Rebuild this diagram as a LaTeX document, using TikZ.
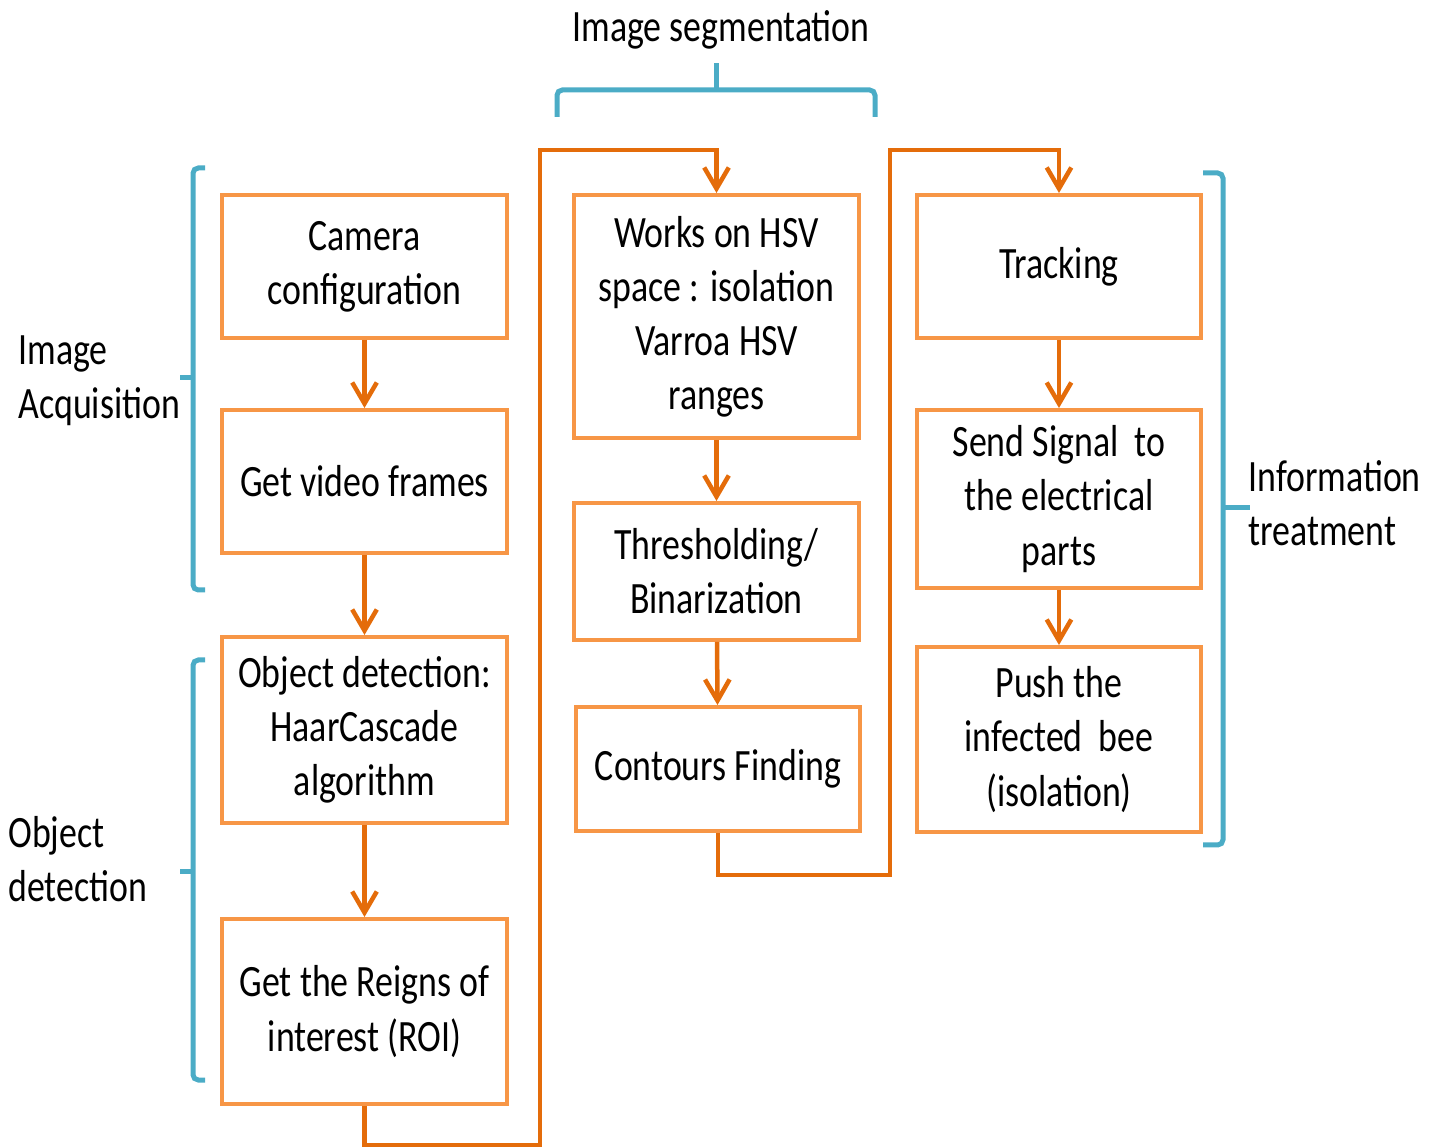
\documentclass[tikz,border=0pt]{standalone}
\usepackage{fontspec}
\setmainfont[FakeStretch=0.8]{Carlito}
\usetikzlibrary{arrows.meta}
\definecolor{boxorange}{HTML}{F79646}
\definecolor{linkorange}{HTML}{E46C0A}
\definecolor{bracketblue}{HTML}{4BACC6}
\begin{document}
\begin{tikzpicture}[x=0.02cm, y=-0.02cm,
    stepbox/.style={draw=boxorange, line width=0.08cm, align=center,
        minimum width=5.7cm, inner sep=2pt,
        font=\fontsize{25.5}{30.8}\selectfont},
    link/.style={draw=linkorange, line width=0.09cm,
        -{Straight Barb[length=12pt, width=14pt, line width=0.09cm]}},
    brace/.style={draw=bracketblue, line width=0.1cm, rounded corners=3pt},
    tag/.style={align=left, anchor=west, inner sep=0pt,
        font=\fontsize{25.5}{30.8}\selectfont}]
    \useasboundingbox (0,0) rectangle (1445,1148);
    % first column
    \node[stepbox, minimum height=2.86cm] (cam) at (364.5, 266.5) {Camera\\configuration};
    \node[stepbox, minimum height=2.86cm] (vid) at (364.5, 481.5) {Get video frames};
    \node[stepbox, minimum height=3.72cm] (obj) at (364.5, 730) {Object detection:\\HaarCascade\\algorithm};
    \node[stepbox, minimum height=3.70cm] (roi) at (364.5, 1011.5) {Get the Reigns of\\interest (ROI)};
    % second column
    \node[stepbox, minimum height=4.86cm] (hsv) at (716.5, 316.5) {Works on HSV\\space : isolation\\Varroa HSV\\ranges};
    \node[stepbox, minimum height=2.74cm] (thr) at (716.5, 571.5) {Thresholding/\\Binarization};
    \node[stepbox, minimum height=2.48cm] (cont) at (718, 769) {Contours Finding};
    % third column
    \node[stepbox, minimum width=5.68cm, minimum height=2.86cm] (trk) at (1059, 266.5) {Tracking};
    \node[stepbox, minimum width=5.68cm, minimum height=3.56cm] (sig) at (1059, 499) {Send Signal~ to\\the electrical\\parts};
    \node[stepbox, minimum width=5.68cm, minimum height=3.70cm] (push) at (1059, 739.5) {Push the\\infected~ bee\\(isolation)};

    % group labels
    \node[tag] (acq) at (18, 381) {Image\\Acquisition};
    \node[tag] (det) at (8, 859) {Object\\detection};
    \node[tag] (info) at (1248, 503) {Information\\treatment};
    \node[inner sep=0pt, font=\fontsize{25.5}{30.8}\selectfont] (seg) at (721, 30) {Image segmentation};

    % arrows inside the columns
    \draw[link] (cam) -- (vid);
    \draw[link] (vid) -- (obj);
    \draw[link] (obj) -- (roi);
    \draw[link] (hsv) -- (thr);
    \draw[link] (thr) -- (cont);
    \draw[link] (trk) -- (sig);
    \draw[link] (sig) -- (push);

    % links between the columns
    \coordinate (lowA) at (540, 1145);
    \coordinate (topA) at (540, 150);
    \coordinate (lowB) at (890, 875);
    \coordinate (topB) at (890, 150);
    \draw[link] (roi.south) |- (lowA) -- (topA) -| (hsv.north);
    \draw[link] (cont.south) |- (lowB) -- (topB) -| (trk.north);

    % brackets
    \draw[brace] (205, 168) -- (193, 168) -- (193, 590) -- (205, 590);
    \draw[brace] (180, 378) -- (193, 378);
    \draw[brace] (205, 660) -- (193, 660) -- (193, 1080) -- (205, 1080);
    \draw[brace] (180, 872) -- (193, 872);
    \draw[brace] (1203, 173) -- (1223, 173) -- (1223, 845) -- (1203, 845);
    \draw[brace] (1223, 508) -- (1250, 508);
    \draw[brace] (557, 117) -- (557, 90) -- (875, 90) -- (875, 117);
    \draw[brace] (716, 90) -- (716, 63);
\end{tikzpicture}
\end{document}
